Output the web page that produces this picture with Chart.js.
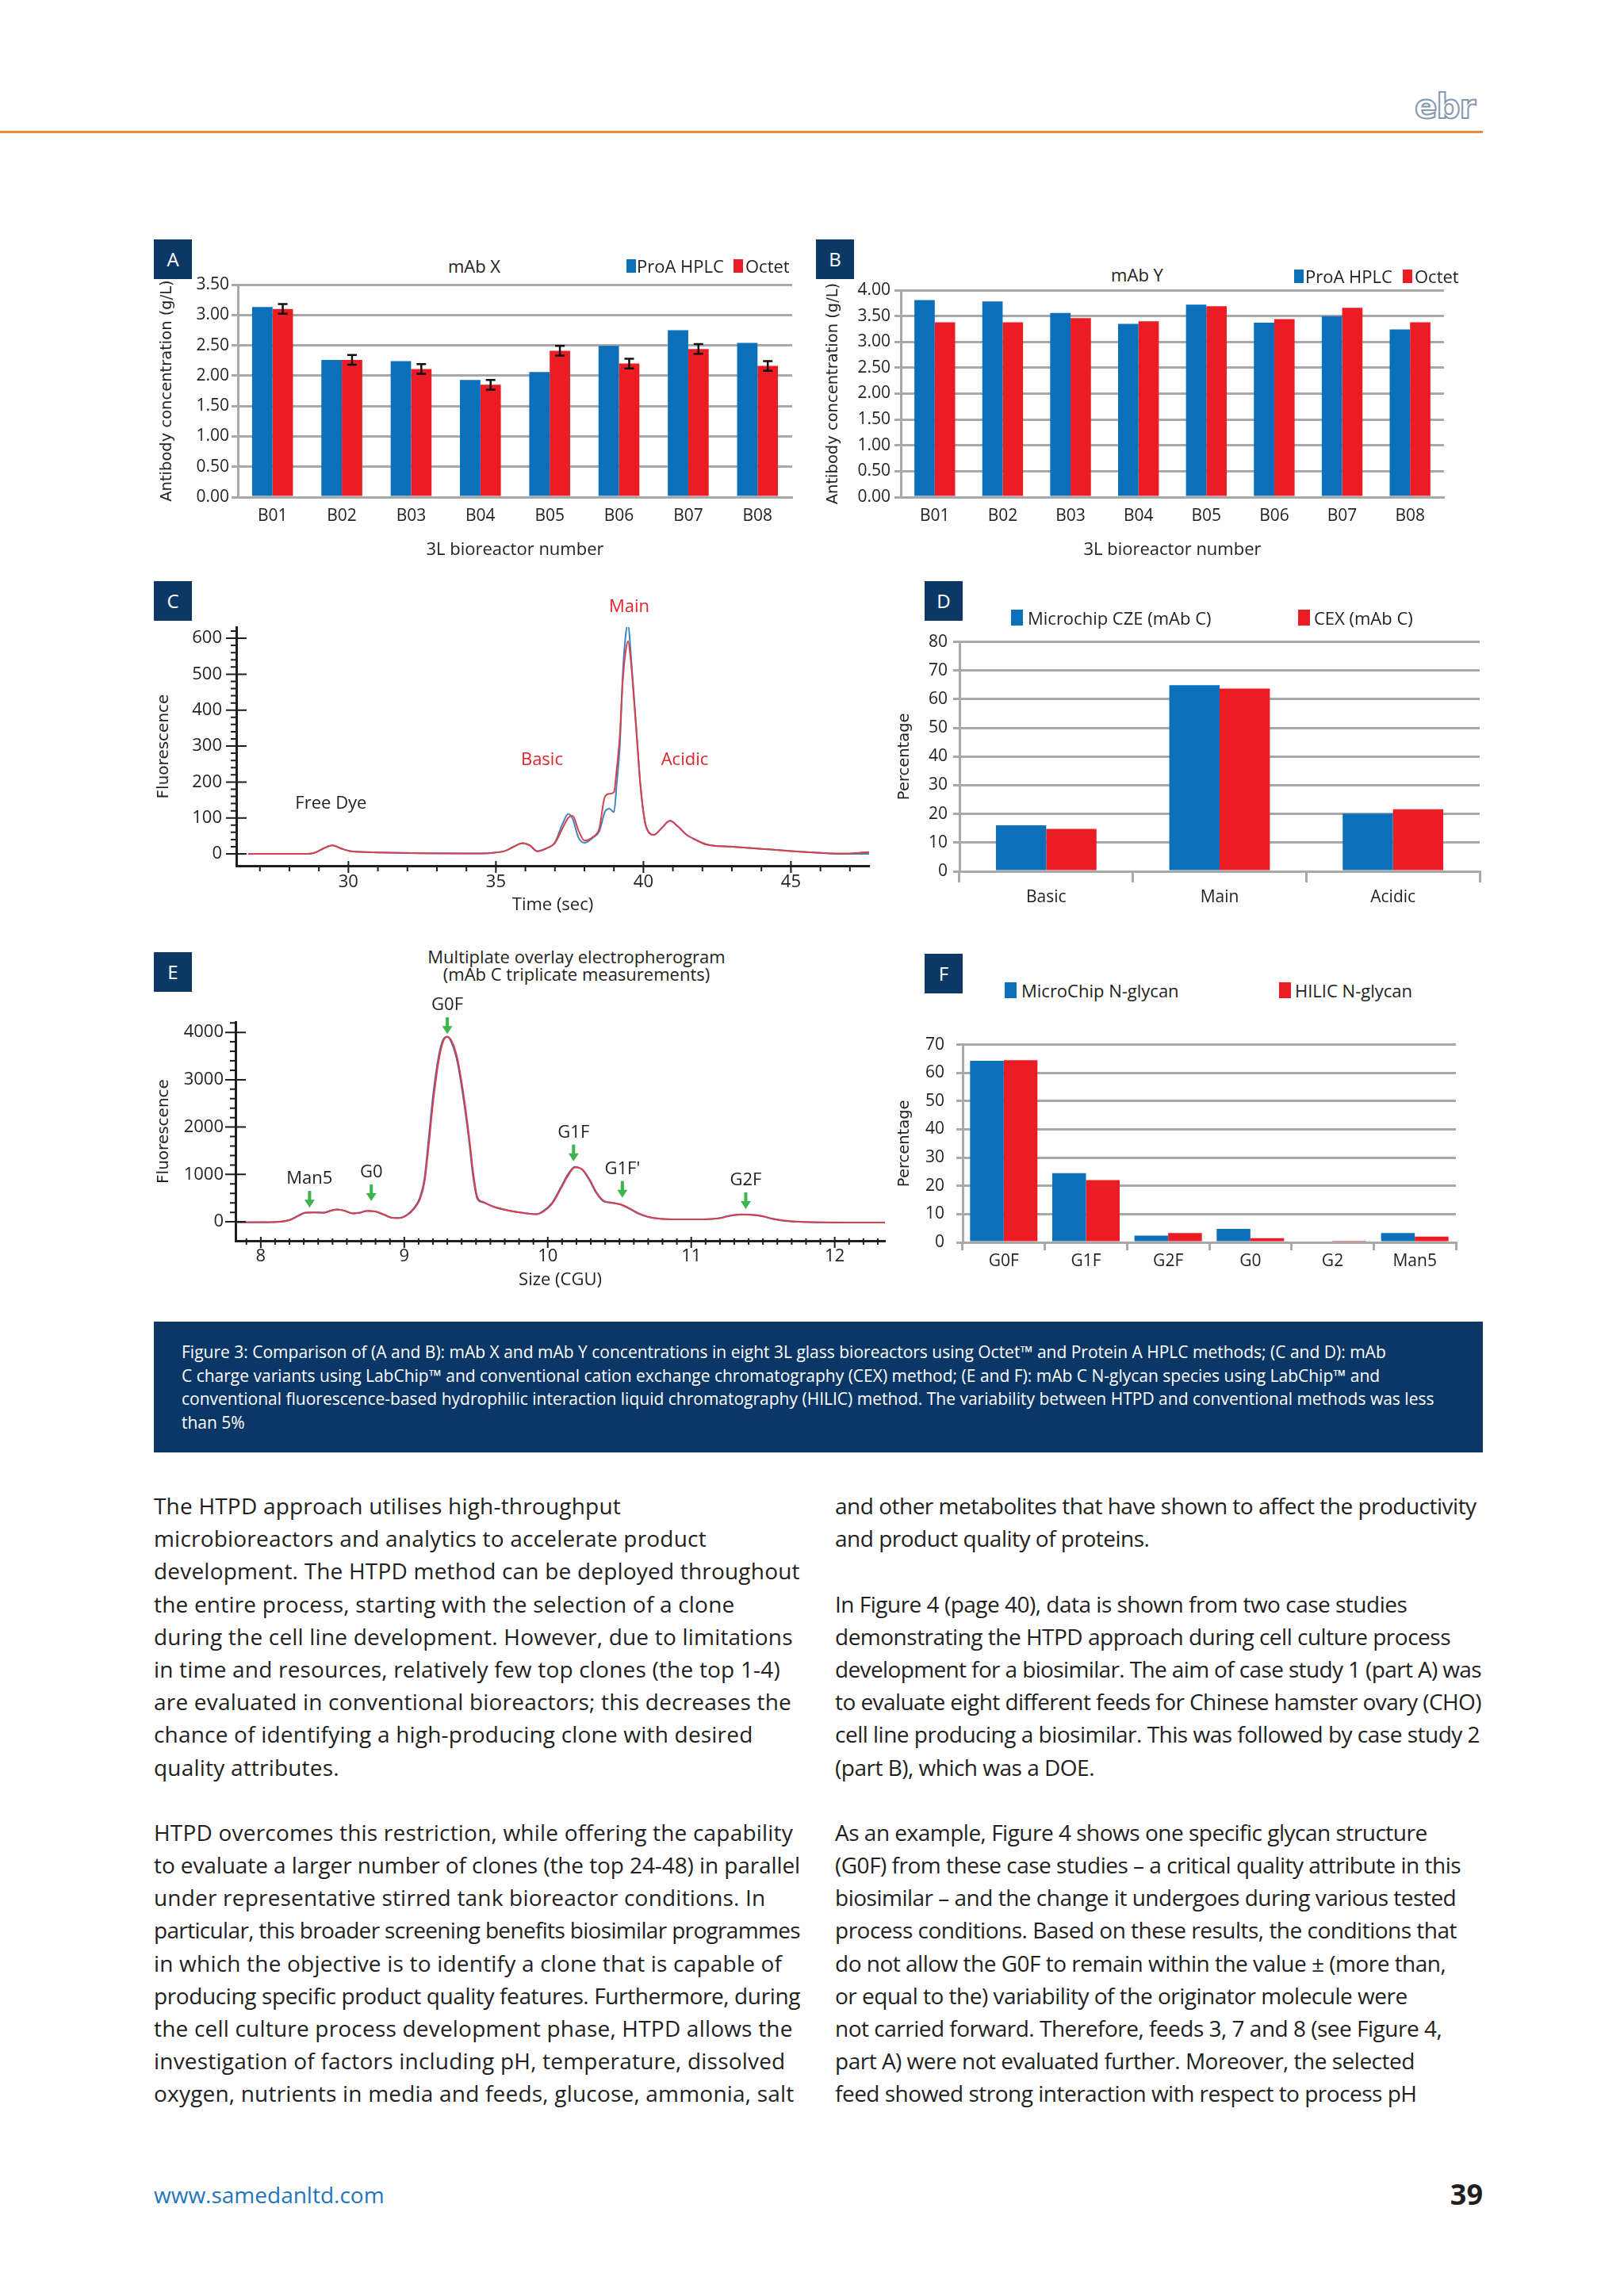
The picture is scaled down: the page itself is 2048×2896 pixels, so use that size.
<!DOCTYPE html>
<html>
<head>
<meta charset="utf-8">
<script src="https://cdn.jsdelivr.net/npm/chart.js@4.4.1/dist/chart.umd.min.js"></script>
<style>
  body { margin: 0; background: #fff; }
  #page { position: relative; width: 2048px; height: 2896px; overflow: hidden; font-family: "Open Sans", sans-serif; color: #231f20; }
  canvas { position: absolute; }
  .tag { position: absolute; width: 48px; height: 50px; background: #0c3866; color: #fff; font-size: 24px; line-height: 50px; text-align: center; }
  .mid { position: absolute; white-space: nowrap; transform: translate(-50%, -50%); line-height: 1; }
  .lg { position: absolute; white-space: nowrap; font-size: 22px; line-height: 1; transform: translateY(-50%); }
  .sw { position: absolute; }
  .col { position: absolute; top: 1879px; font-size: 28px; line-height: 41.2px; white-space: nowrap; color: #231f20; }
  .col div { height: 41.2px; }
  .col span { display: inline-block; white-space: nowrap; }
  #caption { position: absolute; left: 194px; top: 1667px; width: 1676px; height: 165px; background: #0b3767; color: #fff;
             box-sizing: border-box; padding: 24px 0 0 35px; font-size: 21px; line-height: 29.6px; white-space: nowrap; }
</style>
</head>
<body>
<div id="page">
  <div style="position:absolute;left:0;top:165px;width:1870px;height:3px;background:#ef8a3c;"></div>
  <div style="position:absolute;left:1784px;top:114px;font-family:'DejaVu Sans';font-weight:bold;font-size:42px;line-height:42px;color:#fff;-webkit-text-stroke:2px #8797b0;letter-spacing:-1px;">ebr</div>

  <div class="tag" style="left:194px;top:302px">A</div>
  <div class="tag" style="left:1029px;top:302px">B</div>
  <div class="tag" style="left:194px;top:733px">C</div>
  <div class="tag" style="left:1166px;top:733px">D</div>
  <div class="tag" style="left:194px;top:1201px">E</div>
  <div class="tag" style="left:1166px;top:1203px">F</div>

  <div class="mid" style="left:598px;top:335px;font-size:22px">mAb X</div>
  <div class="mid" style="left:1434px;top:346px;font-size:22px">mAb Y</div>
  <div class="mid" style="left:727px;top:1206px;font-size:22px">Multiplate overlay electropherogram</div>
  <div class="mid" style="left:727px;top:1228px;font-size:22px">(mAb C triplicate measurements)</div>

  <canvas id="chartA" width="820" height="380" style="left:194px;top:340px"></canvas>
  <canvas id="chartB" width="810" height="374" style="left:1027px;top:346px"></canvas>
  <canvas id="chartC" width="910" height="415" style="left:194px;top:745px"></canvas>
  <canvas id="chartD" width="760" height="370" style="left:1120px;top:790px"></canvas>
  <canvas id="chartE" width="930" height="380" style="left:194px;top:1250px"></canvas>
  <canvas id="chartF" width="730" height="330" style="left:1120px;top:1290px"></canvas>

  <div id="caption">Figure 3: Comparison of (A and B): mAb X and mAb Y concentrations in eight 3L glass bioreactors using Octet™ and Protein A HPLC methods; (C and D): mAb<br>C charge variants using LabChip™ and conventional cation exchange chromatography (CEX) method; (E and F): mAb C N-glycan species using LabChip™ and<br>conventional fluorescence-based hydrophilic interaction liquid chromatography (HILIC) method. The variability between HTPD and conventional methods was less<br>than 5%</div>

  <div class="col" style="left:194px;letter-spacing:0.2px">The HTPD approach utilises high-throughput<br>microbioreactors and analytics to accelerate product<br>development. The HTPD method can be deployed throughout<br>the entire process, starting with the selection of a clone<br>during the cell line development. However, due to limitations<br>in time and resources, relatively few top clones (the top 1-4)<br>are evaluated in conventional bioreactors; this decreases the<br>chance of identifying a high-producing clone with desired<br>quality attributes.<br><br>HTPD overcomes this restriction, while offering the capability<br>to evaluate a larger number of clones (the top 24-48) in parallel<br>under representative stirred tank bioreactor conditions. In<br>particular, this broader screening benefits biosimilar programmes<br>in which the objective is to identify a clone that is capable of<br>producing specific product quality features. Furthermore, during<br>the cell culture process development phase, HTPD allows the<br>investigation of factors including pH, temperature, dissolved<br>oxygen, nutrients in media and feeds, glucose, ammonia, salt</div>

  <div class="col" style="left:1053px;letter-spacing:-0.5px">and other metabolites that have shown to affect the productivity<br>and product quality of proteins.<br><br>In Figure 4 (page 40), data is shown from two case studies<br>demonstrating the HTPD approach during cell culture process<br>development for a biosimilar. The aim of case study 1 (part A) was<br>to evaluate eight different feeds for Chinese hamster ovary (CHO)<br>cell line producing a biosimilar. This was followed by case study 2<br>(part B), which was a DOE.<br><br>As an example, Figure 4 shows one specific glycan structure<br>(G0F) from these case studies – a critical quality attribute in this<br>biosimilar – and the change it undergoes during various tested<br>process conditions. Based on these results, the conditions that<br>do not allow the G0F to remain within the value ± (more than,<br>or equal to the) variability of the originator molecule were<br>not carried forward. Therefore, feeds 3, 7 and 8 (see Figure 4,<br>part A) were not evaluated further. Moreover, the selected<br>feed showed strong interaction with respect to process pH</div>

  <div style="position:absolute;left:194px;top:2750px;font-size:28px;line-height:36px;color:#1f76bd">www.samedanltd.com</div>
  <div style="position:absolute;right:178px;top:2748px;font-size:36px;line-height:40px;font-weight:bold;color:#231f20">39</div>
</div>

<script>
// panel A / B: antibody concentration per bioreactor
const reactors = ['B01', 'B02', 'B03', 'B04', 'B05', 'B06', 'B07', 'B08'];
const mabXProA = [3.13, 2.26, 2.24, 1.93, 2.06, 2.49, 2.75, 2.54];
const mabXOctet = [3.10, 2.26, 2.11, 1.85, 2.41, 2.20, 2.44, 2.16];
const mabXOctetErr = [0.08, 0.08, 0.08, 0.08, 0.08, 0.08, 0.08, 0.08];
const mabYProA = [3.81, 3.78, 3.56, 3.35, 3.72, 3.37, 3.50, 3.24];
const mabYOctet = [3.38, 3.38, 3.46, 3.40, 3.69, 3.44, 3.66, 3.38];
const methodsAB = ['ProA HPLC', 'Octet'];
const yTicksA = [0, 0.5, 1, 1.5, 2, 2.5, 3, 3.5];
const yTicksB = [0, 0.5, 1, 1.5, 2, 2.5, 3, 3.5, 4];

// panel C: charge variant electropherogram
const timeC = [26.6, 27.5, 28.5, 28.85, 29.15, 29.45, 29.75, 30.1, 31.0, 32.5, 34.0, 34.9, 35.3, 35.6, 35.9, 36.15, 36.4, 36.7, 37.0, 37.25,
               37.45, 37.6, 37.8, 38.0, 38.3, 38.5, 38.7, 38.85, 39.0, 39.1, 39.2, 39.3, 39.4, 39.48, 39.57, 39.67, 39.78, 39.9, 40.05, 40.2,
               40.35, 40.6, 40.9, 41.15, 41.45, 41.8, 42.15, 43.0, 44.0, 45.0, 46.0, 46.8, 47.3, 47.65];
const redC = [0, 0, 0, 3, 15, 24, 15, 7, 4, 2, 1, 3, 8, 20, 30, 24, 7, 15, 30, 70,
              100, 106, 65, 37, 48, 70, 160, 167, 172, 240, 330, 480, 565, 592, 540, 440, 320, 190, 90, 58,
              53, 70, 92, 78, 54, 38, 26, 20, 14, 8, 3, 1, 3, 5];
const blueC = [0, 0, 0, 3, 15, 24, 15, 7, 4, 2, 1, 3, 8, 20, 30, 23, 8, 15, 32, 82,
               111, 98, 45, 31, 46, 62, 118, 126, 116, 200, 300, 500, 610, 642, 560, 450, 325, 190, 90, 58,
               53, 70, 92, 78, 54, 38, 26, 20, 14, 8, 3, 0, 0, 0];
const xTicksC = [30, 35, 40, 45];
const yTicksC = [0, 100, 200, 300, 400, 500, 600];
const labelsC = ['Main', 'Basic', 'Acidic', 'Free Dye'];
const labelXC = [39.52, 36.56, 41.4, 29.41];
const labelYC = [686, 261, 261, 140];

// panel D: charge variants (%)
const chargeCats = ['Basic', 'Main', 'Acidic'];
const czeValues = [16.0, 64.9, 20.1];
const cexValues = [14.8, 63.7, 21.6];
const methodsD = ['Microchip CZE (mAb C)', 'CEX (mAb C)'];
const yTicksD = [0, 10, 20, 30, 40, 50, 60, 70, 80];

// panel E: N-glycan electropherogram
const sizeE = [7.83, 8.0, 8.12, 8.2, 8.26, 8.31, 8.37, 8.44, 8.49, 8.53, 8.58, 8.64, 8.69, 8.74, 8.8, 8.86, 8.91, 8.96, 9.02, 9.07,
               9.11, 9.14, 9.17, 9.2, 9.24, 9.27, 9.3, 9.33, 9.37, 9.41, 9.45, 9.48, 9.51, 9.55, 9.62, 9.72, 9.82, 9.92, 9.97, 10.03,
               10.09, 10.14, 10.19, 10.24, 10.29, 10.34, 10.39, 10.45, 10.51, 10.56, 10.62, 10.7, 10.8, 10.95, 11.12, 11.2, 11.27, 11.35, 11.43, 11.5,
               11.57, 11.65, 11.75, 11.9, 12.1, 12.35];
const blueE = [-10, -8, 0, 40, 130, 195, 200, 195, 240, 262, 235, 175, 195, 232, 215, 145, 85, 80, 150, 300,
               520, 900, 1750, 2650, 3500, 3840, 3910, 3780, 3380, 2650, 1750, 950, 480, 410, 320, 240, 190, 160, 230, 400,
               720, 1000, 1160, 1100, 880, 600, 430, 400, 360, 290, 190, 100, 60, 50, 55, 80, 130, 155, 145, 115,
               60, 20, 0, -10, -15, -15];
const redE = [-12, -10, -2, 35, 120, 190, 198, 192, 235, 258, 238, 180, 190, 228, 218, 152, 90, 78, 140, 280,
              480, 820, 1600, 2500, 3400, 3800, 3900, 3820, 3450, 2750, 1850, 1050, 520, 420, 325, 245, 195, 160, 215, 380,
              690, 970, 1150, 1110, 900, 620, 445, 405, 365, 300, 200, 105, 62, 50, 55, 75, 125, 152, 148, 120,
              65, 25, 3, -10, -15, -15];
const xTicksE = [8, 9, 10, 11, 12];
const yTicksE = [0, 1000, 2000, 3000, 4000];
const peaksE = ['Man5', 'G0', 'G0F', 'G1F', "G1F'", 'G2F'];
const peakXE = [8.34, 8.77, 9.3, 10.18, 10.52, 11.38];
const peakTipE = [300, 435, 3966, 1280, 510, 270];

// panel F: N-glycan species (%)
const glycanCats = ['G0F', 'G1F', 'G2F', 'G0', 'G2', 'Man5'];
const microchipValues = [64.3, 24.5, 2.4, 4.8, 0.4, 3.3];
const hilicValues = [64.5, 22.0, 3.3, 1.5, 0.3, 2.0];
const methodsF = ['MicroChip N-glycan', 'HILIC N-glycan'];
const yTicksF = [0, 10, 20, 30, 40, 50, 60, 70];

const BLUE = '#0b70b9';
const RED = '#ec1c24';
const GRID = '#a8a8a8';
const AXIS = '#1e1e1e';

Chart.defaults.font.family = '"Open Sans", sans-serif';
Chart.defaults.font.size = 21;
Chart.defaults.color = '#231f20';

function fixW(w) { return s => { s.width = w; }; }
function fixH(h) { return s => { s.height = h; }; }
function useTicks(values) { return s => { s.ticks = values.map(v => ({ value: v })); }; }

// body text: one block per line, squeeze the lines that run past the column
document.querySelectorAll('.col').forEach(col => {
    const lines = col.innerHTML.split('<br>');
    col.innerHTML = lines.map(l => '<div><span>' + (l || '&nbsp;') + '</span></div>').join('');
    const base = parseFloat(col.style.letterSpacing) || 0;
    col.querySelectorAll('span').forEach(sp => {
        const w = sp.getBoundingClientRect().width;
        if (w > 815) {
            const n = sp.textContent.length;
            sp.style.letterSpacing = (base - (w - 815) / n) + 'px';
        }
    });
});

// legends (html)
function legend(names, xs, textXs, y, bw, bh) {
    const page = document.getElementById('page');
    [BLUE, RED].forEach((c, i) => {
        const sw = document.createElement('div');
        sw.className = 'sw';
        sw.style.cssText = `left:${xs[i]}px;top:${y - bh / 2}px;width:${bw}px;height:${bh}px;background:${c}`;
        page.appendChild(sw);
        const t = document.createElement('div');
        t.className = 'lg';
        t.style.left = textXs[i] + 'px';
        t.style.top = y + 'px';
        t.textContent = names[i];
        page.appendChild(t);
    });
}
legend(methodsAB, [790, 925], [803, 940], 335, 12, 17);
legend(methodsAB, [1632, 1769], [1646, 1784], 348, 12, 17);
legend(methodsD, [1275, 1637], [1296, 1657], 779, 15, 20);
legend(methodsF, [1267, 1613], [1288, 1633], 1249, 15, 20);

// error bars on one bar dataset
const errorBars = {
    id: 'errorBars',
    afterDatasetsDraw(chart, args, o) {
        const meta = chart.getDatasetMeta(o.dataset);
        const y = chart.scales.y;
        const ctx = chart.ctx;
        ctx.save();
        ctx.strokeStyle = '#111';
        ctx.lineWidth = 2.5;
        meta.data.forEach((bar, i) => {
            const v = chart.data.datasets[o.dataset].data[i];
            const top = y.getPixelForValue(v + o.errors[i]);
            const bot = y.getPixelForValue(v - o.errors[i]);
            ctx.beginPath();
            ctx.moveTo(bar.x, top); ctx.lineTo(bar.x, bot);
            ctx.moveTo(bar.x - 6, top); ctx.lineTo(bar.x + 6, top);
            ctx.moveTo(bar.x - 6, bot); ctx.lineTo(bar.x + 6, bot);
            ctx.stroke();
        });
        ctx.restore();
    }
};

// major / minor tick marks for the trace charts
const axisTicks = {
    id: 'axisTicks',
    afterDraw(chart, args, o) {
        const ctx = chart.ctx, xs = chart.scales.x, ys = chart.scales.y;
        const ax = chart.chartArea.left, ay = chart.chartArea.bottom;
        ctx.save();
        ctx.strokeStyle = AXIS;
        ctx.lineWidth = 2;
        ctx.beginPath();
        for (let v = Math.ceil(xs.min / o.xMinor) * o.xMinor; v <= xs.max + 1e-9; v += o.xMinor) {
            const p = xs.getPixelForValue(v);
            const major = Math.abs(v / o.xMajor - Math.round(v / o.xMajor)) < 1e-6;
            ctx.moveTo(p, ay - (major ? o.xUp[1] : o.xUp[0]));
            ctx.lineTo(p, ay + (major ? o.xDown[1] : o.xDown[0]));
        }
        for (let v = 0; v <= ys.max + 1e-9; v += o.yMinor) {
            const p = ys.getPixelForValue(v);
            const major = Math.abs(v / o.yMajor - Math.round(v / o.yMajor)) < 1e-6;
            ctx.moveTo(ax - (major ? 13 : 7), p);
            ctx.lineTo(ax + (major ? 13 : 0), p);
        }
        ctx.stroke();
        ctx.restore();
    }
};

// text labels (and green arrows) placed at data coordinates
const peakNotes = {
    id: 'peakNotes',
    afterDatasetsDraw(chart, args, o) {
        const ctx = chart.ctx, xs = chart.scales.x, ys = chart.scales.y;
        ctx.save();
        ctx.font = '22px "Open Sans", sans-serif';
        ctx.textAlign = 'center';
        ctx.textBaseline = 'middle';
        o.labels.forEach((t, i) => {
            const px = xs.getPixelForValue(o.x[i]);
            const py = ys.getPixelForValue(o.y[i]);
            if (o.arrows) {
                ctx.fillStyle = '#3db54a';
                ctx.fillRect(px - 2, py - 21, 4, 12);
                ctx.beginPath();
                ctx.moveTo(px - 6.5, py - 10);
                ctx.lineTo(px + 6.5, py - 10);
                ctx.lineTo(px, py);
                ctx.closePath();
                ctx.fill();
                ctx.fillStyle = '#231f20';
                ctx.fillText(t, px, py - 36);
            } else {
                ctx.fillStyle = o.colors[i];
                ctx.fillText(t, px, py);
            }
        });
        ctx.restore();
    }
};

function barChart(id, cats, a, b, o) {
    return new Chart(document.getElementById(id), {
        type: 'bar',
        data: {
            labels: cats,
            datasets: [
                { label: o.names[0], data: a, backgroundColor: BLUE, barPercentage: 1, categoryPercentage: o.cat },
                { label: o.names[1], data: b, backgroundColor: RED, barPercentage: 1, categoryPercentage: o.cat }
            ]
        },
        options: {
            responsive: false,
            animation: false,
            devicePixelRatio: 1,
            layout: { padding: o.pad },
            plugins: {
                legend: { display: false },
                tooltip: { enabled: false },
                errorBars: o.err || false
            },
            scales: {
                x: {
                    grid: o.xGrid,
                    border: { color: GRID, width: 3 },
                    ticks: { padding: o.xPad, maxRotation: 0, autoSkip: false },
                    title: o.xTitle ? { display: true, text: o.xTitle, font: { size: 22 }, padding: { top: 0, bottom: 13 } } : { display: false },
                    afterFit: fixH(o.xH)
                },
                y: {
                    min: o.min, max: o.max,
                    afterBuildTicks: useTicks(o.ticks),
                    grid: { color: GRID, lineWidth: 3, tickLength: 8, tickColor: GRID },
                    border: { color: GRID, width: 3 },
                    ticks: { padding: o.yPad, callback: o.fmt },
                    title: { display: true, text: o.yTitle, font: { family: 'DejaVu Sans', size: 19.5 }, padding: { top: o.tPad, bottom: 0 } },
                    afterFit: fixW(o.yW)
                }
            }
        },
        plugins: o.err ? [errorBars] : []
    });
}

function traceChart(id, xv, redY, blueY, o) {
    return new Chart(document.getElementById(id), {
        type: 'line',
        data: {
            datasets: [
                { data: xv.map((x, i) => ({ x: x, y: redY[i] })), borderColor: '#d8404c', borderWidth: 2, pointRadius: 0, cubicInterpolationMode: 'monotone' },
                { data: xv.map((x, i) => ({ x: x, y: blueY[i] })), borderColor: o.blue, borderWidth: 2, pointRadius: 0, cubicInterpolationMode: 'monotone' }
            ]
        },
        options: {
            responsive: false,
            animation: false,
            devicePixelRatio: 1,
            layout: { padding: o.pad },
            plugins: {
                legend: { display: false },
                tooltip: { enabled: false },
                axisTicks: o.tickMarks,
                peakNotes: o.notes
            },
            scales: {
                x: {
                    type: 'linear', min: o.xMin, max: o.xMax,
                    afterBuildTicks: useTicks(o.xTicks),
                    grid: { display: false, drawTicks: false },
                    border: { color: AXIS, width: 3 },
                    ticks: { padding: o.xPad, maxRotation: 0, autoSkip: false, font: { size: 22 }, callback: v => String(v) },
                    title: { display: true, text: o.xTitle, font: { size: 22 }, padding: { top: 0, bottom: o.xtPad } },
                    afterFit: fixH(o.xH)
                },
                y: {
                    min: o.yMin, max: o.yMax,
                    afterBuildTicks: useTicks(o.yTicks),
                    grid: { display: false, drawTicks: false },
                    border: { color: AXIS, width: 3 },
                    ticks: { padding: o.yPad, font: { size: 22 }, callback: v => String(v) },
                    title: { display: true, text: 'Fluorescence', font: { family: 'DejaVu Sans', size: 20 }, padding: { top: 1, bottom: 0 } },
                    afterFit: fixW(o.yW)
                }
            }
        },
        plugins: [axisTicks, peakNotes]
    });
}

barChart('chartA', reactors, mabXProA, mabXOctet, {
    names: methodsAB, cat: 0.59, pad: { top: 19, right: 15, left: 0, bottom: 0 },
    xGrid: { display: false, drawTicks: false }, xPad: 11, xH: 93, xTitle: '3L bioreactor number',
    min: 0, max: 3.5, ticks: yTicksA, yPad: 3, yW: 106, tPad: 5,
    yTitle: 'Antibody concentration (g/L)', fmt: v => v.toFixed(2),
    err: { dataset: 1, errors: mabXOctetErr }
});

barChart('chartB', reactors, mabYProA, mabYOctet, {
    names: methodsAB, cat: 0.6, pad: { top: 20, right: 16, left: 0, bottom: 0 },
    xGrid: { display: false, drawTicks: false }, xPad: 11, xH: 93, xTitle: '3L bioreactor number',
    min: 0, max: 4, ticks: yTicksB, yPad: 5, yW: 109, tPad: 12,
    yTitle: 'Antibody concentration (g/L)', fmt: v => v.toFixed(2)
});

barChart('chartD', chargeCats, czeValues, cexValues, {
    names: methodsD, cat: 0.58, pad: { top: 17, right: 14, left: 0, bottom: 0 },
    xGrid: { display: true, offset: true, drawOnChartArea: false, drawTicks: true, tickLength: 14, color: GRID, lineWidth: 3 },
    xPad: 6, xH: 61,
    min: 0, max: 80, ticks: yTicksD, yPad: 7, yW: 90, tPad: 9,
    yTitle: 'Percentage', fmt: v => String(v)
});

barChart('chartF', glycanCats, microchipValues, hilicValues, {
    names: methodsF, cat: 0.82, pad: { top: 20, right: 14, left: 0, bottom: 0 },
    xGrid: { display: true, offset: true, drawOnChartArea: false, drawTicks: true, tickLength: 10, color: GRID, lineWidth: 3 },
    xPad: 1, xH: 53,
    min: 0, max: 70, ticks: yTicksF, yPad: 15, yW: 94, tPad: 9,
    yTitle: 'Percentage', fmt: v => String(v)
});

traceChart('chartC', timeC, redC, blueC, {
    blue: '#3d86c6', pad: { top: 46, right: 8, left: 0, bottom: 0 },
    xMin: 26.2, xMax: 47.65, xTicks: xTicksC, xPad: 8, xH: 68, xTitle: 'Time (sec)', xtPad: 5,
    yMin: -33, yMax: 631, yTicks: yTicksC, yPad: 18, yW: 104,
    tickMarks: { xMinor: 1, xMajor: 5, xUp: [0, 6], xDown: [7, 9], yMinor: 20, yMajor: 100 },
    notes: { labels: labelsC, x: labelXC, y: labelYC, colors: ['#e4232b', '#e4232b', '#e4232b', '#231f20'], arrows: false }
});

traceChart('chartE', sizeE, redE, blueE, {
    blue: '#5066b8', pad: { top: 39, right: 8, left: 0, bottom: 0 },
    xMin: 7.824, xMax: 12.35, xTicks: xTicksE, xPad: 7, xH: 65, xTitle: 'Size (CGU)', xtPad: 2,
    yMin: -400, yMax: 4220, yTicks: yTicksE, yPad: 15, yW: 103,
    tickMarks: { xMinor: 0.1, xMajor: 1, xUp: [3, 5], xDown: [5, 9], yMinor: 200, yMajor: 1000 },
    notes: { labels: peaksE, x: peakXE, y: peakTipE, arrows: true }
});
</script>
</body>
</html>
